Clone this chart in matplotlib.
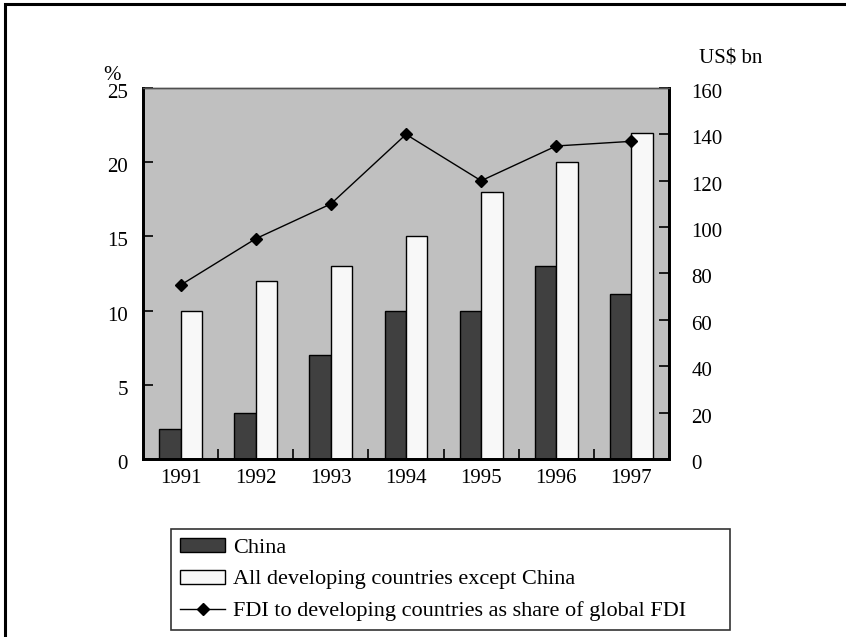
import matplotlib
matplotlib.use("Agg")
import matplotlib.pyplot as plt
import matplotlib.transforms as mtransforms
import numpy as np
from matplotlib.patches import Rectangle
from matplotlib.lines import Line2D

plt.rcParams['font.family'] = ['Liberation Serif', 'DejaVu Serif']

years = ['1991', '1992', '1993', '1994', '1995', '1996', '1997']
china = [2.0, 3.1, 7.0, 10.0, 10.0, 13.0, 11.1]
others = [10.0, 12.0, 13.0, 15.0, 18.0, 20.0, 22.0]
share = [75, 95, 110, 140, 120, 135, 137]

W, H = 846, 637
fig = plt.figure(figsize=(W / 100, H / 100), dpi=100)

# outer frame of the exhibit
fig.patches.append(Rectangle((5 / W, -0.2), 1.2, 1.2 - 4 / H, transform=fig.transFigure,
                             fill=False, edgecolor='black', linewidth=2.2))

x0, x1, yb, yt = 143, 669, 459, 88
ax = fig.add_axes([x0 / W, 1 - yb / H, (x1 - x0) / W, (yb - yt) / H])
ax.set_facecolor('#c0c0c0')

x = np.arange(len(years))
bw = 0.286
ax.bar(x - bw / 2, china, bw, color='#404040', edgecolor='black', linewidth=1.0, zorder=2)
ax.bar(x + bw / 2, others, bw, color='#f8f8f8', edgecolor='black', linewidth=1.0, zorder=2)
ax.set_xlim(-0.5, len(years) - 0.5)
ax.set_ylim(0, 25)
ax.set_yticks(np.arange(0, 26, 5))

ax2 = ax.twinx()
ax2.plot(x, share, color='black', linewidth=1.0, marker='D', markersize=6.5, zorder=3)
ax2.set_ylim(0, 160)
ax2.set_yticks(np.arange(0, 161, 20))

fs = 15
ax.set_xticks(x)
ax.set_xticklabels(years, fontsize=fs)
ax.set_xticks(np.arange(0.5, len(years) - 1, 1), minor=True)
ax.tick_params(axis='x', which='major', length=0, pad=7)
ax.tick_params(axis='x', which='minor', direction='in', length=7, width=1.2)
ax.tick_params(axis='y', direction='in', length=7, width=1.2, labelsize=fs, pad=11)
ax2.tick_params(axis='y', direction='in', length=7, width=1.2, labelsize=fs, pad=16)

# value labels sit slightly below their tick marks
shift = mtransforms.ScaledTranslation(0, -3 / 100, fig.dpi_scale_trans)
for lab in ax.get_yticklabels() + ax2.get_yticklabels():
    lab.set_transform(lab.get_transform() + shift)

for a in (ax, ax2):
    a.spines['left'].set_linewidth(2.0)
    a.spines['bottom'].set_linewidth(2.0)
    a.spines['right'].set_linewidth(2.0)
    a.spines['top'].set_linewidth(1.0)
    a.spines['top'].set_color('#505050')

fig.text(112 / W, 1 - 75 / H, '%', fontsize=fs, ha='center', va='center')
fig.text(731 / W, 1 - 59 / H, 'US$ bn', fontsize=fs, ha='center', va='center')

handles = [
    Rectangle((0, 0), 1, 1, facecolor='#404040', edgecolor='black', linewidth=1.0),
    Rectangle((0, 0), 1, 1, facecolor='#f8f8f8', edgecolor='black', linewidth=1.0),
    Line2D([], [], color='black', linewidth=1.0, marker='D', markersize=6),
]
labels = ['China', 'All developing countries except China',
          'FDI to developing countries as share of global FDI']
leg = fig.legend(handles, labels, loc='upper left', mode='expand',
                 bbox_to_anchor=(171 / W, 1 - 628 / H, 559 / W, 99 / H), fontsize=16,
                 frameon=True, fancybox=False, edgecolor='black',
                 handlelength=2.05, handleheight=0.6, handletextpad=0.35,
                 borderpad=0.4, labelspacing=0.53, borderaxespad=0)
leg.get_frame().set_linewidth(1.2)

fig.savefig('out.png', dpi=100)
